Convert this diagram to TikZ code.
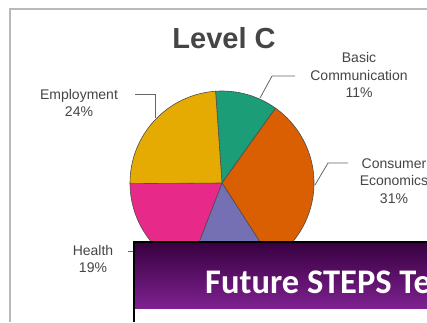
\documentclass[tikz,border=0pt]{standalone}
\usepackage{fontspec}
\setmainfont{Liberation Sans}
\newfontfamily\slidefont{Carlito}
\usetikzlibrary{calc}
\usepackage{xcolor}
\definecolor{dkgreen}{HTML}{1B9E77}
\definecolor{dkorange}{HTML}{D95F02}
\definecolor{dkpurple}{HTML}{7570B3}
\definecolor{dkpink}{HTML}{E7298A}
\definecolor{dkyellow}{HTML}{E6AB02}
\definecolor{labelgray}{HTML}{454545}
\definecolor{headtop}{HTML}{37003F}
\definecolor{headbot}{HTML}{7E2190}

\begin{document}
\begin{tikzpicture}[x=1pt,y=1pt,
    pielabel/.style={align=center,text=labelgray,font=\fontsize{14}{17.5}\selectfont},
    leader/.style={line width=0.8pt,gray!80!black}]
        \useasboundingbox (0,0) rectangle (427,322);
        \fill[white] (0,0) rectangle (427,322);
        \draw[line width=1.5pt,gray!55] (10,0)--(10,313)--(427,313);

        \node[text=labelgray,font=\bfseries\fontsize{29}{32}\selectfont] (title) at (224,284) {Level C};

        % slices, clockwise from the top
        \coordinate (ctr) at (222,139);
        \foreach \s/\e/\c in {94/54.4/dkgreen, 54.4/-57.2/dkorange, -57.2/-111.2/dkpurple,
                              -111.2/-179.6/dkpink, -179.6/-266/dkyellow}
          \filldraw[fill=\c,draw=black!70,line width=0.6pt]
            (ctr) -- ++(\s:92pt) arc[start angle=\s,end angle=\e,radius=92pt] -- cycle;

        \node[pielabel] (emp) at (79,219) {Employment\\24\%};
        \node[pielabel] (bas) at (359,247) {Basic\\Communication\\11\%};
        \node[pielabel] (con) at (394,141) {Consumer\\Economics\\31\%};
        \node[pielabel] (hea) at (93,63) {Health\\19\%};

        \coordinate (empA) at (135,228);
        \coordinate (empB) at (155,204);
        \coordinate (basA) at (295,246);
        \coordinate (basB) at (272,246);
        \coordinate (basC) at (260,224);
        \coordinate (conA) at (348,159);
        \coordinate (conB) at (328,159);
        \coordinate (conC) at (315,137);
        \coordinate (heaA) at (128,71);
        \coordinate (heaB) at (136,71);

        \draw[leader] (empA) -| (empB);
        \draw[leader] (basA) -- (basB) -- (basC);
        \draw[leader] (conA) -- (conB) -- (conC);
        \draw[leader] (heaA) -- (heaB);

        % slide over the chart
        \fill[white] (134,0) rectangle (427,80);
        \shade[top color=headtop,bottom color=headbot] (134,14) rectangle (427,80);
        \draw[line width=1.6pt,black] (134,0)--(134,80)--(427,80);
        \node[anchor=base west,text=white,inner sep=0pt,font=\slidefont\bfseries\fontsize{34.5}{38}\selectfont] (slide) at (205,29) {Future STEPS Te};
\end{tikzpicture}
\end{document}
